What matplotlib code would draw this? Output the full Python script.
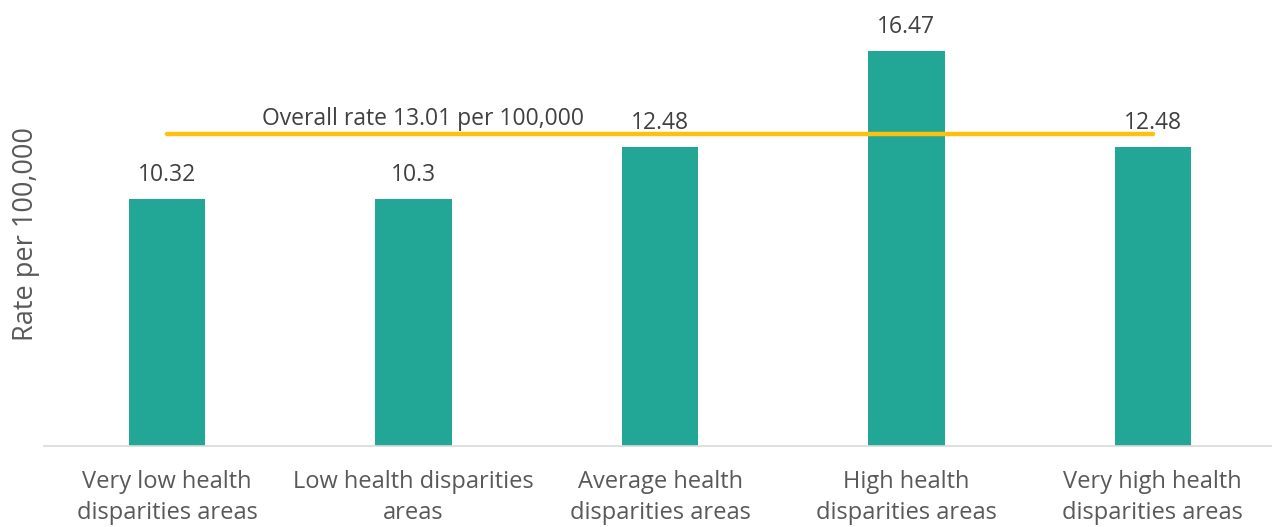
import matplotlib.pyplot as plt

plt.rcParams['font.family'] = ['Open Sans', 'DejaVu Sans']

categories = [
    "Very low health\ndisparities areas",
    "Low health disparities\nareas",
    "Average health\ndisparities areas",
    "High health\ndisparities areas",
    "Very high health\ndisparities areas",
]
rates = [10.32, 10.3, 12.48, 16.47, 12.48]
overall_rate = 13.01

bar_color = "#22A696"
line_color = "#FFC010"
text_color = "#404040"
label_color = "#595959"

fig = plt.figure(figsize=(12.72, 5.27), dpi=100)
ax = fig.add_axes([44 / 1272, 81 / 527, 1232 / 1272, 446 / 527])

x = list(range(len(categories)))
bars = ax.bar(x, rates, width=0.31, color=bar_color, zorder=2)

for xi, val in zip(x, rates):
    ax.annotate(f"{val:g}", (xi, val), xytext=(0, 8.5), textcoords="offset points",
                ha="center", va="bottom", fontsize=16.5, color=text_color, zorder=4)

# overall rate drawn across the category centres
ax.plot(x, [overall_rate] * len(x), color=line_color, linewidth=3.2,
        solid_capstyle="round", zorder=3)
ax.text(1.04, overall_rate + 0.12, f"Overall rate {overall_rate} per 100,000",
        ha="center", va="bottom", fontsize=16.5, color=text_color, zorder=4)

ax.set_xlim(-0.5, len(x) - 0.5)
ax.set_ylim(0, 18.6)
ax.set_xticks(x)
ax.set_xticklabels(categories, fontsize=17, color=label_color, linespacing=1.4)
ax.tick_params(axis="x", length=0, pad=17)
ax.set_yticks([])

ax.set_ylabel("Rate per 100,000", fontsize=19.5, color=label_color)
ax.yaxis.set_label_coords(-0.003, 0.475)

for side in ["top", "right", "left"]:
    ax.spines[side].set_visible(False)
ax.spines["bottom"].set_color("#D9D9D9")
ax.spines["bottom"].set_linewidth(1.2)

fig.savefig("out.png", dpi=100)
